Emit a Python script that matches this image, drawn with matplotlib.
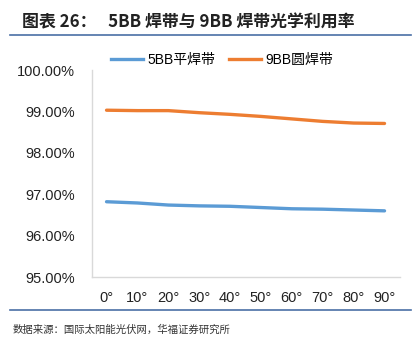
import matplotlib.pyplot as plt
from matplotlib.lines import Line2D

plt.rcParams['font.family'] = ['Liberation Sans', 'Noto Sans CJK SC', 'DejaVu Sans']

angles = ['0°', '10°', '20°', '30°', '40°', '50°', '60°', '70°', '80°', '90°']
flat_5bb = [96.82, 96.79, 96.74, 96.72, 96.71, 96.68, 96.65, 96.64, 96.62, 96.60]
round_9bb = [99.03, 99.02, 99.02, 98.97, 98.93, 98.88, 98.82, 98.76, 98.72, 98.71]
yticks = [95, 96, 97, 98, 99, 100]

fig = plt.figure(figsize=(4.19, 3.40), dpi=100)
ax = fig.add_axes([0.2196, 0.185, 0.735, 0.609])

x = list(range(len(angles)))
ax.plot(x, flat_5bb, color='#5B9BD5', lw=2.4, solid_capstyle='round', label='5BB平焊带')
ax.plot(x, round_9bb, color='#ED7D31', lw=2.4, solid_capstyle='round', label='9BB圆焊带')

ax.set_xlim(-0.47, 9.5)
ax.set_ylim(95, 100)
ax.set_yticks(yticks)
ax.set_yticklabels(['%.2f%%' % v for v in yticks])
ax.set_xticks(x)
ax.set_xticklabels(angles)
ax.tick_params(length=0, labelsize=10.5, colors='#222222')
ax.tick_params(axis='x', pad=10)
ax.tick_params(axis='y', pad=12)
for s in ['top', 'right']:
    ax.spines[s].set_visible(False)
for s in ['left', 'bottom']:
    ax.spines[s].set_color('#d9d9d9')
    ax.spines[s].set_linewidth(1)

handles = [Line2D([], [], color='#5B9BD5', lw=2.4),
           Line2D([], [], color='#ED7D31', lw=2.4)]
fig.legend(handles, ['5BB平焊带', '9BB圆焊带'], loc='center', bbox_to_anchor=(0.53, 0.823),
           ncol=2, frameon=False, handlelength=2.3, handletextpad=0.3,
           columnspacing=1.0, prop={'family': ['Liberation Sans', 'Noto Sans CJK SC'], 'size': 10})

fig.text(0.053, 0.935, '图表 26：   5BB 焊带与 9BB 焊带光学利用率', fontsize=12.2, fontweight='bold',
         family=['Noto Sans CJK SC', 'DejaVu Sans'], va='center', ha='left', color='#222222')
fig.add_artist(Line2D([0.024, 0.98], [0.897, 0.897], color='#4a6fa5', lw=1.2))
fig.add_artist(Line2D([0.024, 0.98], [0.088, 0.088], color='#4a6fa5', lw=1.2))
fig.text(0.03, 0.03, '数据来源：国际太阳能光伏网，华福证券研究所', fontsize=7.5,
         family=['Noto Sans CJK SC', 'DejaVu Sans'], va='center', ha='left', color='#333333')

fig.savefig('out.png', dpi=100)
